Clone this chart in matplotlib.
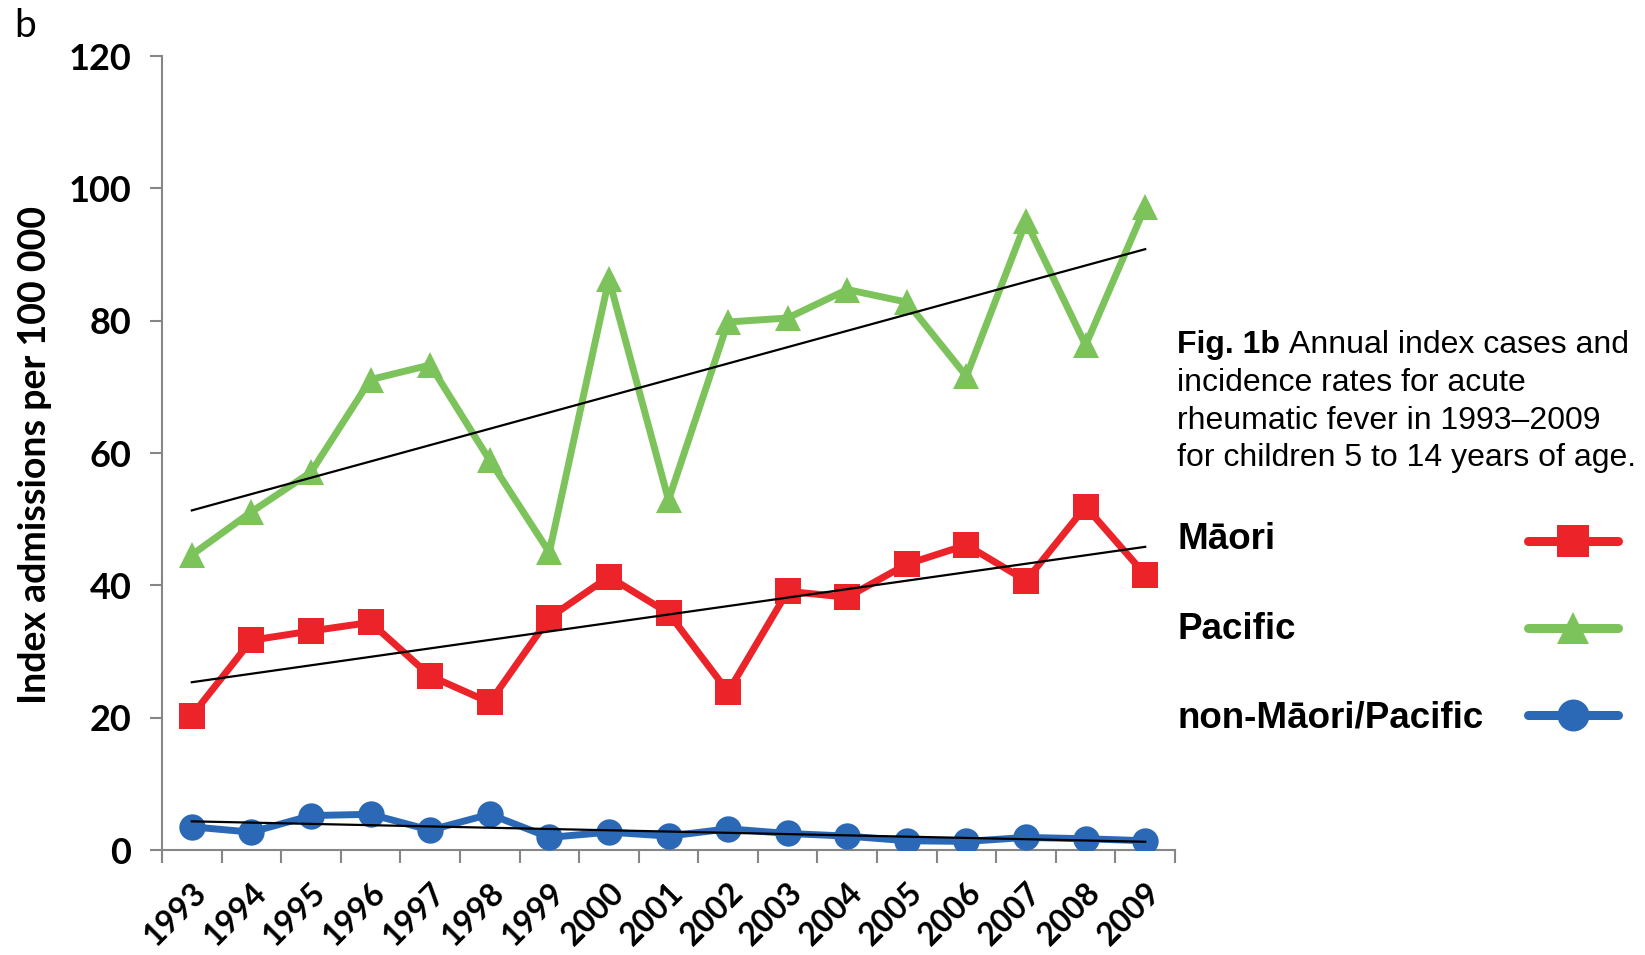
import numpy as np
import matplotlib
matplotlib.use("Agg")
import matplotlib.pyplot as plt
from matplotlib.lines import Line2D

# Annual index admissions per 100 000 children aged 5-14
years = [str(y) for y in range(1993, 2010)]
maori = [20.3, 31.7, 33.1, 34.4, 26.3, 22.3, 35.1, 41.3, 35.8, 23.9,
         39.1, 38.2, 43.2, 46.1, 40.7, 51.9, 41.6]
pacific = [44.6, 51.1, 57.1, 71.1, 73.3, 58.9, 45.0, 86.3, 52.9, 79.8,
           80.4, 84.7, 82.8, 71.6, 95.0, 76.3, 97.2]
non_maori_pacific = [3.5, 2.7, 5.2, 5.4, 3.0, 5.4, 1.9, 2.7, 2.1, 3.2,
                     2.5, 2.1, 1.4, 1.3, 1.9, 1.7, 1.4]
series_names = ["Māori", "Pacific", "non-Māori/Pacific"]
yticks = [0, 20, 40, 60, 80, 100, 120]

colors = ["#EC2329", "#7DC35B", "#2B69B7"]
markers = ["s", "^", "o"]

W, H = 1645, 955
fig = plt.figure(figsize=(W / 100, H / 100), dpi=100)
ax = fig.add_axes([162 / W, 105 / H, 1013 / W, 794 / H])

x = np.arange(len(years))
for vals, col, mk in zip([maori, pacific, non_maori_pacific], colors, markers):
    ax.plot(x, vals, color=col, lw=5, marker=mk, ms=19, mew=0, zorder=3,
            solid_joinstyle="round")
    coef = np.polyfit(x, vals, 1)
    ends = x[[0, -1]]
    ax.plot(ends, np.polyval(coef, ends), color="black", lw=1.6, zorder=4)

ax.set_xlim(-0.5, len(years) - 0.5)
ax.set_ylim(0, 120)
for side in ("top", "right"):
    ax.spines[side].set_visible(False)
for side in ("left", "bottom"):
    ax.spines[side].set_color("#868686")
    ax.spines[side].set_linewidth(1.5)

tick_font = dict(family="Lato", weight="bold")
ax.set_yticks(yticks)
ax.set_yticklabels([str(v) for v in yticks], fontsize=26, **tick_font)
ax.tick_params(axis="y", length=9, width=1.5, color="#868686", pad=13)

ax.set_xticks(x)
ax.set_xticklabels(years, fontsize=23, rotation=45, ha="right", va="top",
                   rotation_mode="anchor", **tick_font)
ax.set_xticks(np.arange(-0.5, len(years), 1.0), minor=True)
ax.tick_params(axis="x", which="major", length=0, pad=20)
ax.tick_params(axis="x", which="minor", length=9, width=1.5, color="#868686")

fig.text(35 / W, 1 - 455 / H, "Index admissions per 100 000", rotation=90,
         ha="center", va="center", fontsize=27, **tick_font)
fig.text(14 / W, 1 - 37 / H, "b", fontsize=28, family="Lato", va="baseline")

# Caption block
renderer = fig.canvas.get_renderer()
cap_x = 1177 / W
cap_font = dict(family="Liberation Sans", fontsize=23)
base0 = 353
lead = 37.8
bold_part = fig.text(cap_x, 1 - base0 / H, "Fig. 1b", fontweight="bold",
                     va="baseline", **cap_font)
bw = bold_part.get_window_extent(renderer).width
space = 0.278 * 23 * 100 / 72
fig.text(cap_x + (bw + space) / W, 1 - base0 / H, "Annual index cases and",
         va="baseline", **cap_font)
rest = ["incidence rates for acute",
        "rheumatic fever in 1993–2009",
        "for children 5 to 14 years of age."]
for i, line in enumerate(rest, start=1):
    fig.text(cap_x, 1 - (base0 + i * lead) / H, line, va="baseline", **cap_font)

# Key: labels on the left, line samples on the right
label_base = [549, 639, 728]
handle_y = [541, 628, 715]
for name, col, mk, yb, yh in zip(series_names, colors, markers,
                                 label_base, handle_y):
    fig.text(cap_x, 1 - yb / H, name, va="baseline", fontweight="bold",
             family="Liberation Sans", fontsize=26.5)
    fig.add_artist(Line2D([1528 / W, 1618 / W], [1 - yh / H, 1 - yh / H],
                          transform=fig.transFigure, color=col, lw=6.5,
                          solid_capstyle="round"))
    fig.add_artist(Line2D([1573 / W], [1 - yh / H], transform=fig.transFigure,
                          color=col, marker=mk, ms=23, mew=0, lw=0))

fig.savefig("out.png", dpi=100)
